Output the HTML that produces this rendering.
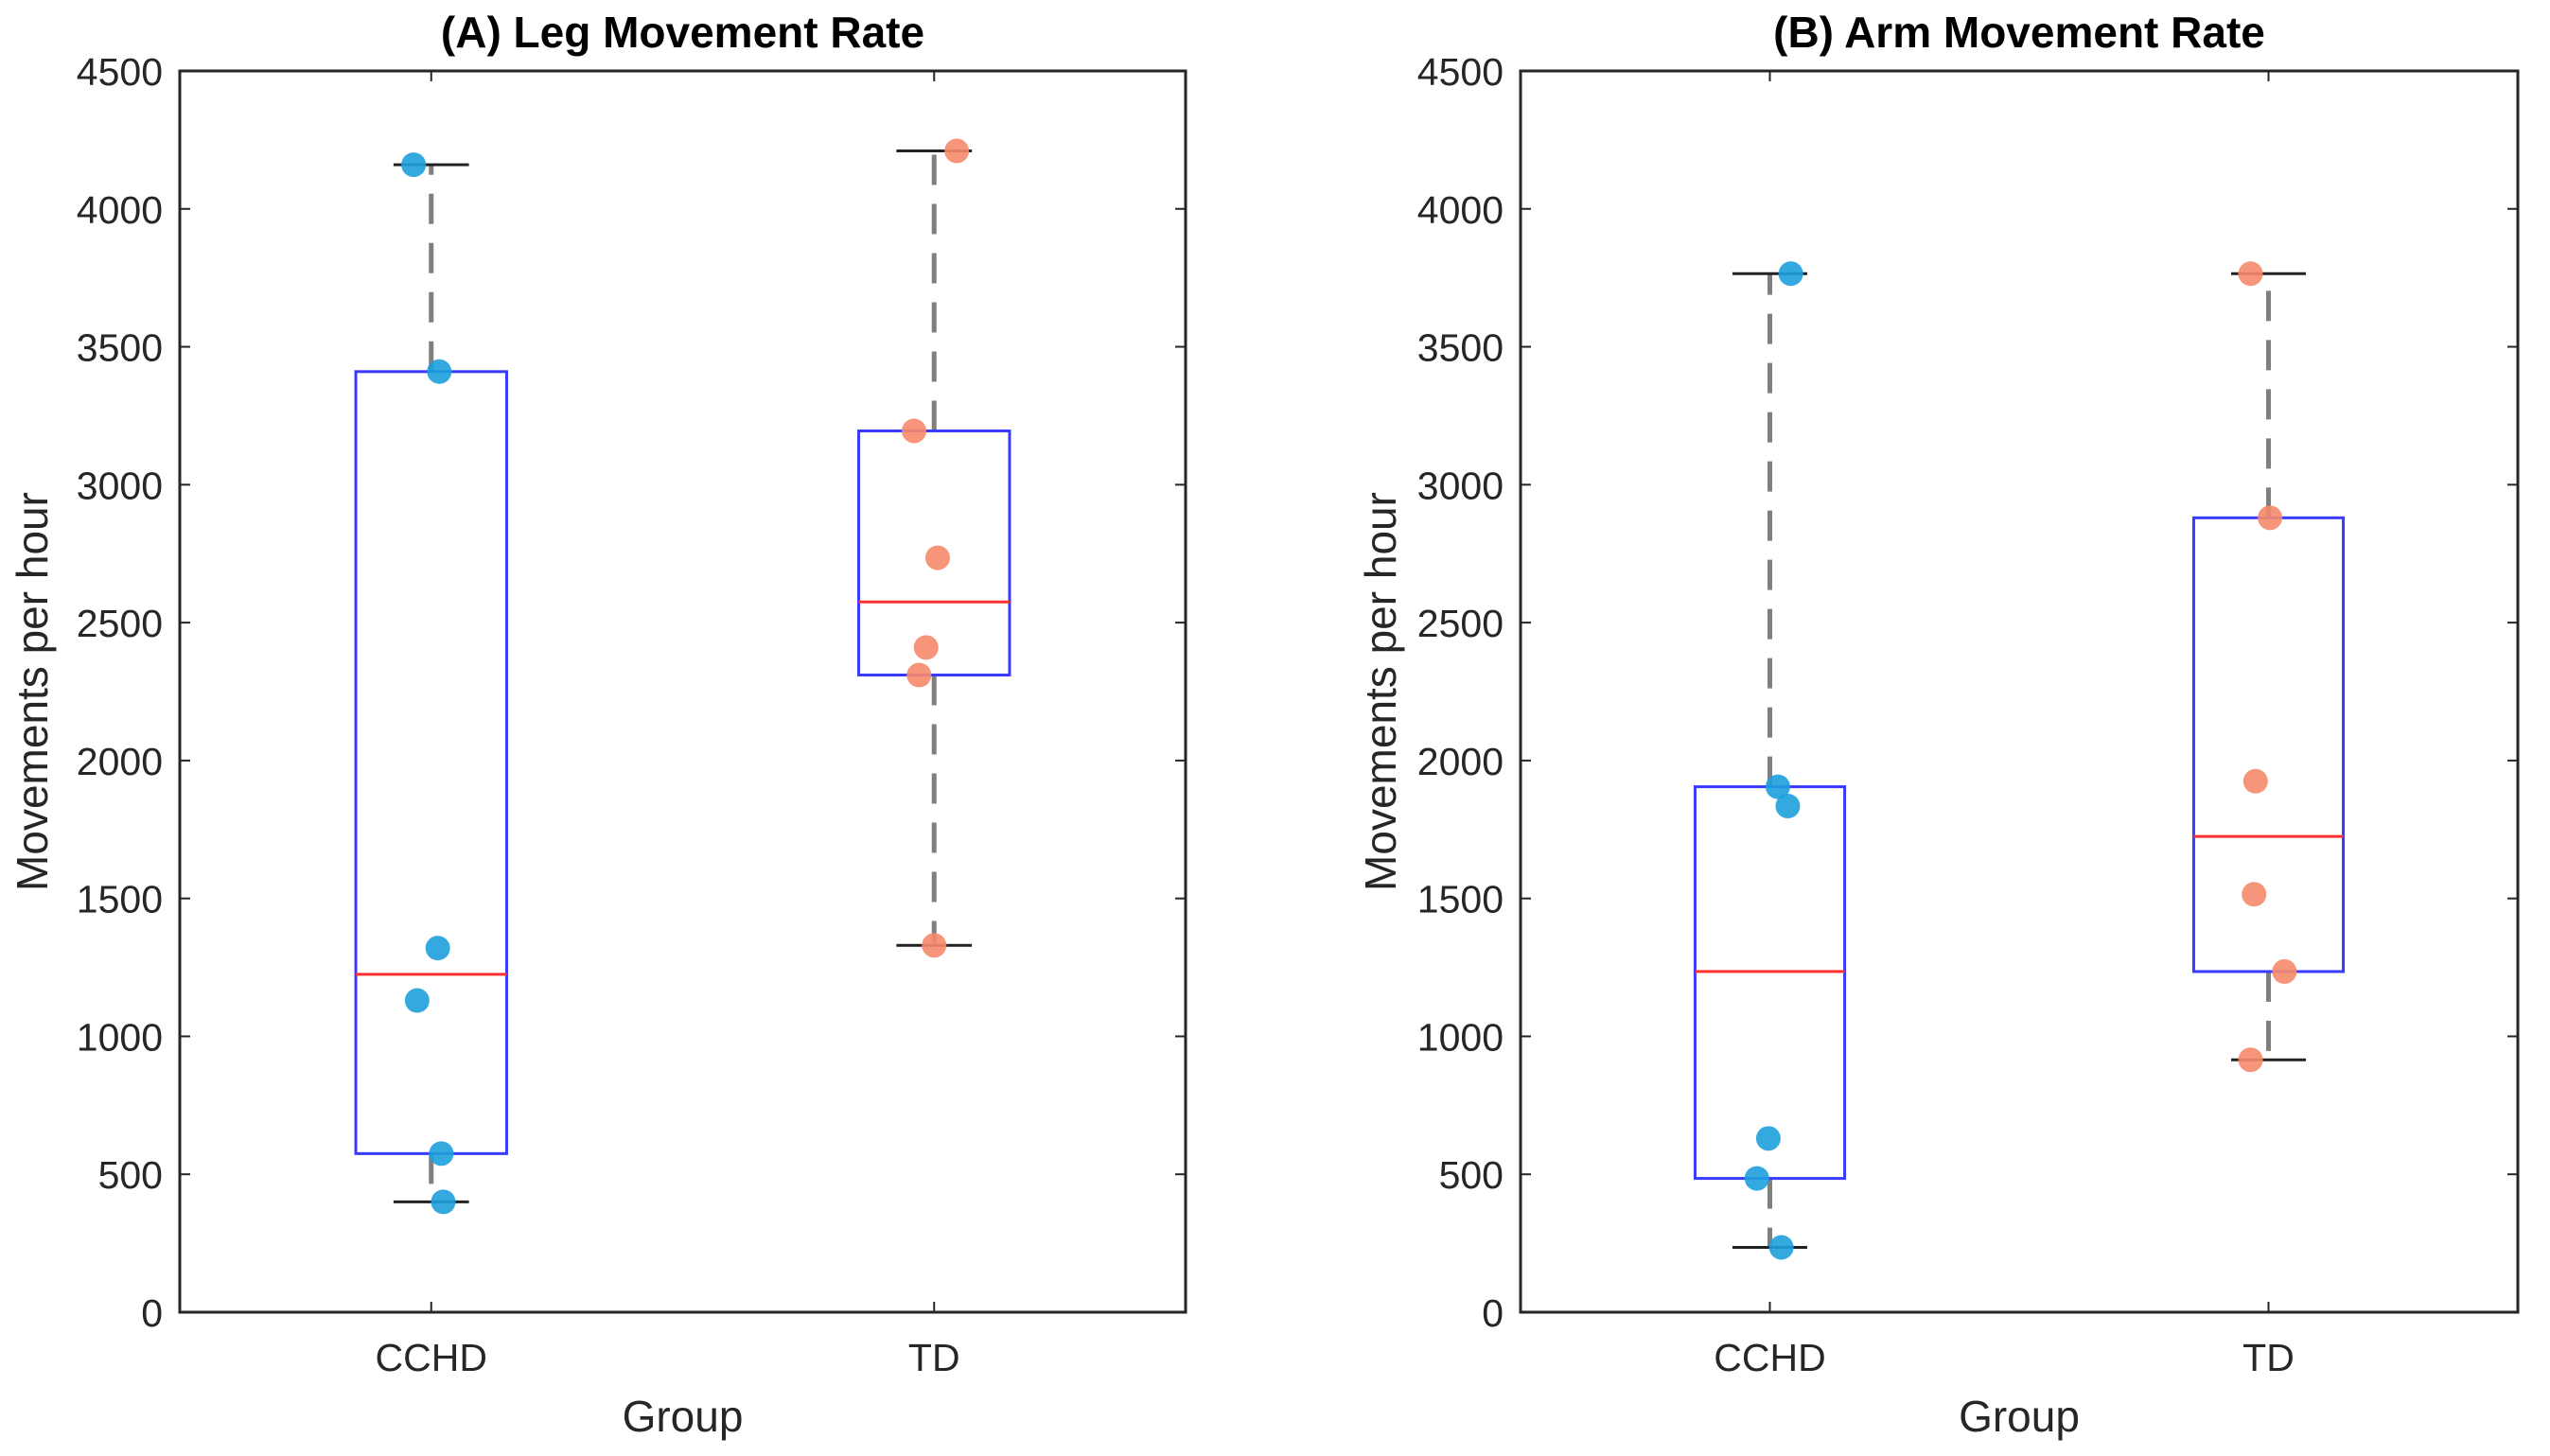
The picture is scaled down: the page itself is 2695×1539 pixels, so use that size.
<!DOCTYPE html>
<html><head><meta charset="utf-8"><style>
html,body{margin:0;padding:0;background:#fff;}
svg{display:block;font-family:"Liberation Sans",sans-serif;}
</style></head><body>
<svg id="chart" width="2695" height="1539" viewBox="0 0 2695 1539"></svg>
<script>
const categories = ["CCHD","TD"];
const yTicks = [0,500,1000,1500,2000,2500,3000,3500,4000,4500];
const panelTitles = ["(A) Leg Movement Rate","(B) Arm Movement Rate"];
// stats: [lowWhisker, Q1, median, Q3, highWhisker]
const legCCHDStats = [400,575,1225,3410,4160];
const legTDStats = [1330,2310,2575,3195,4210];
const armCCHDStats = [235,485,1235,1905,3765];
const armTDStats = [915,1235,1725,2880,3765];
const legCCHDPoints = [4160,3410,1320,1130,575,400];
const legCCHDJitter = [-0.035,0.016,0.013,-0.028,0.02,0.024];
const legTDPoints = [4210,3195,2735,2410,2310,1330];
const legTDJitter = [0.045,-0.04,0.007,-0.016,-0.03,0];
const armCCHDPoints = [3765,1905,1835,630,485,235];
const armCCHDJitter = [0.042,0.016,0.036,-0.003,-0.026,0.023];
const armTDPoints = [3765,2880,1925,1515,1235,915];
const armTDJitter = [-0.036,0.003,-0.026,-0.029,0.032,-0.036];

const NS="http://www.w3.org/2000/svg";
const svg=document.getElementById('chart');
function mk(tag,attrs,parent){const e=document.createElementNS(NS,tag);for(const k in attrs)e.setAttribute(k,attrs[k]);(parent||svg).appendChild(e);return e;}

const panels=[
 {x0:190,x1:1253,stats:[legCCHDStats,legTDStats],pts:[legCCHDPoints,legTDPoints],jit:[legCCHDJitter,legTDJitter],key:'leg',ylb:50},
 {x0:1607,x1:2661,stats:[armCCHDStats,armTDStats],pts:[armCCHDPoints,armTDPoints],jit:[armCCHDJitter,armTDJitter],key:'arm',ylb:1475}
];
const y0=1387,y1=75;
const colors=["#1ea0dc","#f68a6c"];

panels.forEach((p,pi)=>{
 const g=mk('g',{});
 
 
 const X=v=>p.x0+(v-0.5)/2*(p.x1-p.x0);
 const Y=v=>y0-(v/4500)*(y0-y1);
 yTicks.forEach(t=>{
  const yy=Y(t);
  mk('line',{x1:p.x0,x2:p.x0+11,y1:yy,y2:yy,stroke:'#262626','stroke-width':2},g);
  mk('line',{x1:p.x1,x2:p.x1-11,y1:yy,y2:yy,stroke:'#262626','stroke-width':2},g);
  const tl=mk('text',{x:p.x0-18,y:yy+15,'text-anchor':'end','font-size':41,fill:'#262626'},g);
  tl.textContent=t;
  
  
 });
 categories.forEach((c,ci)=>{
  const xx=X(ci+1);
  mk('line',{x1:xx,x2:xx,y1:y0,y2:y0-11,stroke:'#262626','stroke-width':2},g);
  mk('line',{x1:xx,x2:xx,y1:y1,y2:y1+11,stroke:'#262626','stroke-width':2},g);
  const tl=mk('text',{x:xx,y:1449,'text-anchor':'middle','font-size':41,fill:'#262626'},g);
  tl.textContent=c;
  
  
 });
 p.stats.forEach((s,ci)=>{
  const cx=X(ci+1), hw=0.15*(p.x1-p.x0)/2, cw=0.075*(p.x1-p.x0)/2;
  const bg=mk('g',{},g);
  
  
  mk('line',{x1:cx,x2:cx,y1:Y(s[3]),y2:Y(s[4]),stroke:'#7f7f7f','stroke-width':5,'stroke-dasharray':'32 20'},bg);
  mk('line',{x1:cx,x2:cx,y1:Y(s[1]),y2:Y(s[0]),stroke:'#7f7f7f','stroke-width':5,'stroke-dasharray':'32 20'},bg);
  mk('line',{x1:cx-cw,x2:cx+cw,y1:Y(s[4]),y2:Y(s[4]),stroke:'#222','stroke-width':3},bg);
  mk('line',{x1:cx-cw,x2:cx+cw,y1:Y(s[0]),y2:Y(s[0]),stroke:'#222','stroke-width':3},bg);
  mk('rect',{x:cx-hw,y:Y(s[3]),width:2*hw,height:Y(s[1])-Y(s[3]),fill:'none',stroke:'#3a3aff','stroke-width':3},bg);
  mk('line',{x1:cx-hw,x2:cx+hw,y1:Y(s[2]),y2:Y(s[2]),stroke:'#ff3030','stroke-width':3},bg);
 });
 p.pts.forEach((arr,ci)=>{
  arr.forEach((v,i)=>{
   const c=mk('circle',{cx:X(ci+1+p.jit[ci][i]),cy:Y(v),r:13,fill:colors[ci],'fill-opacity':0.9},g);
   
   
  });
 });
 mk('rect',{x:p.x0,y:y1,width:p.x1-p.x0,height:y0-y1,fill:'none',stroke:'#262626','stroke-width':3},g);
 const t=mk('text',{x:(p.x0+p.x1)/2,y:50,'text-anchor':'middle','font-size':46,'font-weight':'bold',fill:'#000'},g);
 t.textContent=panelTitles[pi];
 
 
 const xl=mk('text',{x:(p.x0+p.x1)/2,y:1513,'text-anchor':'middle','font-size':46,fill:'#262626'},g);
 xl.textContent='Group';
 
 
 const yl=mk('text',{x:0,y:0,'text-anchor':'middle','font-size':46,fill:'#262626',transform:`translate(${p.ylb},${(y0+y1)/2}) rotate(-90)`},g);
 yl.textContent='Movements per hour';
 
 
});
</script>
</body></html>
